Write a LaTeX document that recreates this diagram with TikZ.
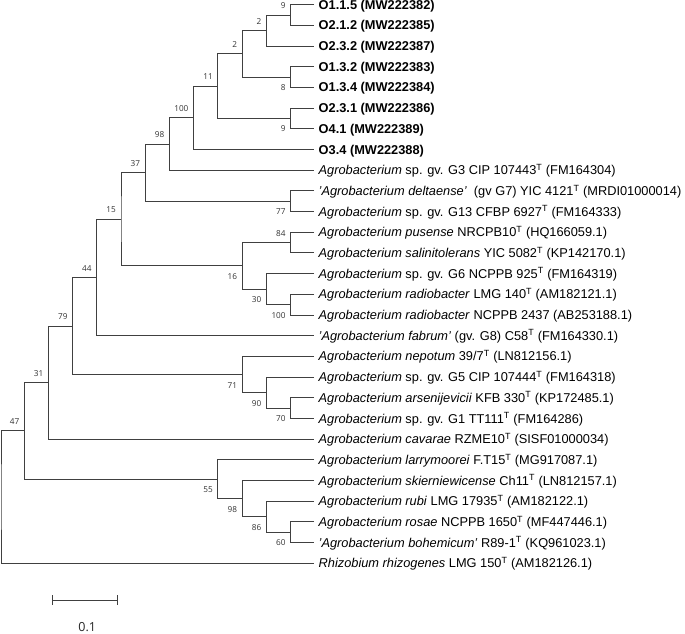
\documentclass[tikz,border=0pt]{standalone}
\usepackage{fontspec}
\setmainfont{Liberation Sans}
\newfontfamily\labfont{Open Sans}
\begin{document}
\begin{tikzpicture}[x=1pt,y=-1pt,
  br/.style={draw=black!75,line width=1pt},
  leaf/.style={anchor=base west,inner sep=0pt,font=\fontsize{12.8}{14}\selectfont},
  bsa/.style={anchor=base east,inner sep=0pt,font=\labfont\fontsize{8.2}{9}\selectfont,text=black!80},
  ]
\useasboundingbox (0,0) rectangle (685,634);
% leaves
\foreach \i/\txt in {
 0/{\textbf{O1.1.5 (MW222382)}},
 1/{\textbf{O2.1.2 (MW222385)}},
 2/{\textbf{O2.3.2 (MW222387)}},
 3/{\textbf{O1.3.2 (MW222383)}},
 4/{\textbf{O1.3.4 (MW222384)}},
 5/{\textbf{O2.3.1 (MW222386)}},
 6/{\textbf{O4.1 (MW222389)}},
 7/{\textbf{O3.4 (MW222388)}},
 8/{\textit{Agrobacterium} sp. gv. G3 CIP 107443\textsuperscript{T} (FM164304)},
 9/{\textit{'Agrobacterium deltaense'}\ \ (gv G7) YIC 4121\textsuperscript{T} (MRDI01000014)},
 10/{\textit{Agrobacterium} sp. gv. G13 CFBP 6927\textsuperscript{T} (FM164333)},
 11/{\textit{Agrobacterium pusense} NRCPB10\textsuperscript{T} (HQ166059.1)},
 12/{\textit{Agrobacterium salinitolerans} YIC 5082\textsuperscript{T} (KP142170.1)},
 13/{\textit{Agrobacterium} sp. gv. G6 NCPPB 925\textsuperscript{T} (FM164319)},
 14/{\textit{Agrobacterium radiobacter} LMG 140\textsuperscript{T} (AM182121.1)},
 15/{\textit{Agrobacterium radiobacter} NCPPB 2437 (AB253188.1)},
 16/{\textit{'Agrobacterium fabrum'} (gv. G8) C58\textsuperscript{T} (FM164330.1)},
 17/{\textit{Agrobacterium nepotum} 39/7\textsuperscript{T} (LN812156.1)},
 18/{\textit{Agrobacterium} sp. gv. G5 CIP 107444\textsuperscript{T} (FM164318)},
 19/{\textit{Agrobacterium arsenijevicii} KFB 330\textsuperscript{T} (KP172485.1)},
 20/{\textit{Agrobacterium} sp. gv. G1 TT111\textsuperscript{T} (FM164286)},
 21/{\textit{Agrobacterium cavarae} RZME10\textsuperscript{T} (SISF01000034)},
 22/{\textit{Agrobacterium larrymoorei} F.T15\textsuperscript{T} (MG917087.1)},
 23/{\textit{Agrobacterium skierniewicense} Ch11\textsuperscript{T} (LN812157.1)},
 24/{\textit{Agrobacterium rubi} LMG 17935\textsuperscript{T} (AM182122.1)},
 25/{\textit{Agrobacterium rosae} NCPPB 1650\textsuperscript{T} (MF447446.1)},
 26/{\textit{'Agrobacterium bohemicum'} R89-1\textsuperscript{T} (KQ961023.1)},
 27/{\textit{Rhizobium rhizogenes} LMG 150\textsuperscript{T} (AM182126.1)}}
{
  \coordinate (L\i) at (314,{4.7+20.69*\i});
  \node[leaf] (t\i) at ([xshift=4.5pt,yshift=-4.5pt]L\i) {\txt};
}
% internal nodes
\coordinate (r) at (1,497.14);
\coordinate (n47) at (24.5,430.94);
\coordinate (n31) at (48.5,382.6);
\coordinate (n79) at (72.7,326.02);
\coordinate (n44) at (96.8,277.51);
\coordinate (n15) at (121,219.28);
\coordinate (n37) at (145.2,172.64);
\coordinate (n98) at (169.4,144.03);
\coordinate (n100) at (193.6,117.85);
\coordinate (n11) at (217.9,86.17);
\coordinate (n2a) at (242.2,53.84);
\coordinate (n2b) at (266.5,30.56);
\coordinate (n9a) at (290.8,15.045);
\coordinate (n8) at (290.8,77.115);
\coordinate (n9b) at (290.8,118.495);
\coordinate (n77) at (290.8,201.26);
\coordinate (n16) at (242.2,265.91);
\coordinate (n84) at (290.8,242.64);
\coordinate (n30) at (266.5,289.19);
\coordinate (n100b) at (290.8,304.71);
\coordinate (n71) at (242.2,374.53);
\coordinate (n90) at (266.5,392.64);
\coordinate (n70) at (290.8,408.16);
\coordinate (n55) at (217.9,479.28);
\coordinate (n98b) at (242.2,498.68);
\coordinate (n86) at (266.5,516.78);
\coordinate (n60) at (290.8,532.3);
% branches
\foreach \p/\a/\b in {r/n47/L27, n47/n31/n55, n31/n79/L21, n79/n44/n71,
  n44/n15/L16, n15/n37/n16, n37/n98/n77, n98/n100/L8, n100/n11/L7,
  n11/n2a/n9b, n2a/n2b/n8, n2b/n9a/L2, n9a/L0/L1, n8/L3/L4, n9b/L5/L6,
  n77/L9/L10, n16/n84/n30, n84/L11/L12, n30/L13/n100b, n100b/L14/L15,
  n71/L17/n90, n90/L18/n70, n70/L19/L20, n55/L22/n98b, n98b/L23/n86,
  n86/L24/n60, n60/L25/L26}
{
  \draw[br] (\a) -| (\p) |- (\b);
}
% bootstrap values above the branch
\foreach \n/\v in {n9a/9, n2b/2, n2a/2, n11/11, n100/100, n98/98, n37/37,
  n15/15, n44/44, n79/79, n31/31, n47/47, n84/84}
{
  \node[bsa] (ba\n) at ([xshift=-5pt,yshift=6.5pt]\n) {\v};
}
% bootstrap values below the branch
\foreach \n/\v in {n8/8, n9b/9, n77/77, n16/16, n30/30, n100b/100, n71/71,
  n90/90, n70/70, n55/55, n98b/98, n86/86, n60/60}
{
  \node[bsa] (bb\n) at ([xshift=-5pt,yshift=-13.5pt]\n) {\v};
}
% scale bar
\coordinate (s1) at (52.3,600);
\coordinate (s2) at (117.7,600);
\draw[br] (s1) -- (s2);
\draw[br] ([yshift=4.6pt]s1) -- ([yshift=-4.6pt]s1);
\draw[br] ([yshift=4.6pt]s2) -- ([yshift=-4.6pt]s2);
\node[font=\labfont\fontsize{12.5}{14}\selectfont,text=black!85,inner sep=0pt] (sl) at (87.3,627) {0.1};
\end{tikzpicture}
\end{document}
